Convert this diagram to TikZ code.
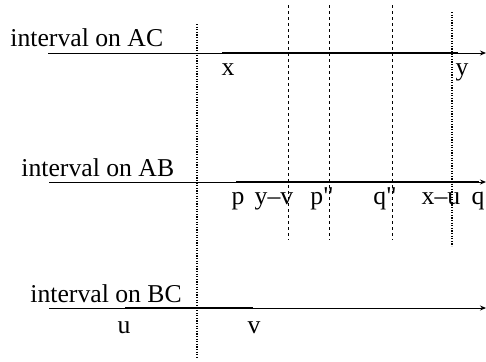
\documentclass[tikz,border=0pt]{standalone}
\usepackage{fontspec}
\setmainfont{Liberation Serif}[Ligatures=TeXOff]
\usetikzlibrary{arrows.meta}
\begin{document}
\begin{tikzpicture}[x=0.5pt,y=-0.5pt,
  lbl/.style={inner sep=0pt,font=\fontsize{12.85}{15}\selectfont},
  axis/.style={line width=0.5pt,-{Stealth[length=3pt,width=2.5pt]}},
  seg/.style={line width=1.1pt},
  vdash/.style={line width=0.5pt,dash pattern=on 1.5pt off 1.5pt},
  vdot/.style={line width=0.6pt,dash pattern=on 0.6pt off 0.7pt}]
\useasboundingbox (0,0) rectangle (486,361);
% axes
\coordinate (acs) at (48,53);  \coordinate (ace) at (486,53);
\coordinate (abs) at (49,182); \coordinate (abe) at (486,182);
\coordinate (bcs) at (49,308); \coordinate (bce) at (486,308);
\draw[axis] (acs) -- (ace);
\draw[axis] (abs) -- (abe);
\draw[axis] (bcs) -- (bce);
% intervals
\coordinate (x1) at (222,53); \coordinate (y1) at (458,53);
\coordinate (p1) at (236,182); \coordinate (q1) at (479,182);
\coordinate (u1) at (125,308); \coordinate (v1) at (253,308);
\draw[seg] (x1) -- (y1);
\draw[seg] (p1) -- (q1);
\draw[seg] (u1) -- (v1);
% vertical lines
\coordinate (d0t) at (197,24);  \coordinate (d0b) at (197,358);
\coordinate (d1t) at (288,5);   \coordinate (d1b) at (288,240);
\coordinate (d2t) at (329,5);   \coordinate (d2b) at (329,240);
\coordinate (d3t) at (392,5);   \coordinate (d3b) at (392,240);
\coordinate (d4t) at (452,12);  \coordinate (d4b) at (452,246);
\draw[vdot] (d0t) -- (d0b);
\draw[vdash] (d1t) -- (d1b);
\draw[vdash] (d2t) -- (d2b);
\draw[vdash] (d3t) -- (d3b);
\draw[vdot] (d4t) -- (d4b);
% labels
\node[lbl,anchor=base west] (tac) at (10,46) {interval on AC};
\node[lbl,anchor=base west] (tab) at (21,176) {interval on AB};
\node[lbl,anchor=base west] (tbc) at (30,302) {interval on BC};
\node[lbl,anchor=base] (lx) at (228,75) {x};
\node[lbl,anchor=base] (ly) at (462,75) {y};
\node[lbl,anchor=base] (lp) at (238,204) {p};
\node[lbl,anchor=base] (lyv) at (274,204) {y–v};
\node[lbl,anchor=base] (lpp) at (322,204) {p"};
\node[lbl,anchor=base] (lqq) at (385,204) {q"};
\node[lbl,anchor=base] (lxu) at (441,204) {x–u};
\node[lbl,anchor=base] (lq) at (478,204) {q};
\node[lbl,anchor=base] (lu) at (124,333) {u};
\node[lbl,anchor=base] (lv) at (254,333) {v};
\end{tikzpicture}
\end{document}
